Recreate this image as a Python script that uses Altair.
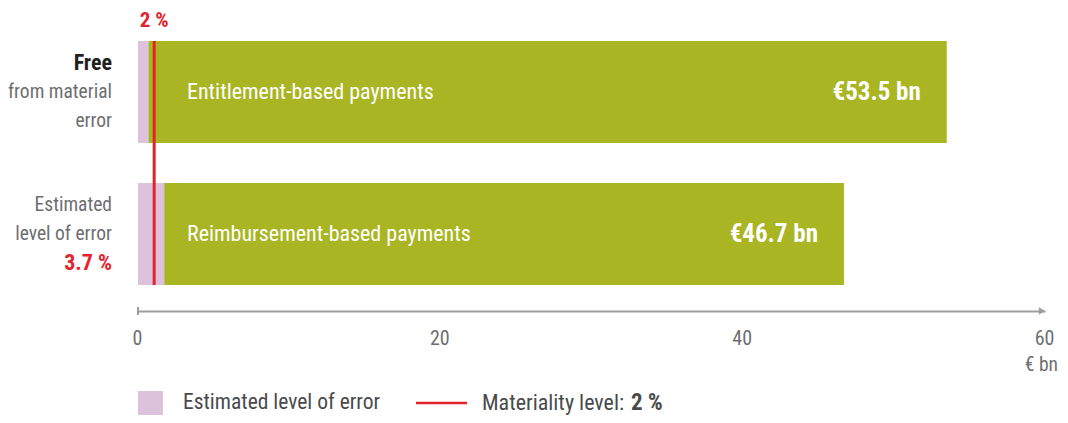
import altair as alt
import pandas as pd

FONT = "Roboto Condensed, Liberation Sans Narrow, DejaVu Sans Condensed, sans-serif"

# ---- data ----
categories = ["Entitlement-based payments", "Reimbursement-based payments"]
totals = [53.5, 46.7]            # € bn
errors = [0.68, 1.73]            # estimated level of error, € bn
value_labels = ["€53.5 bn", "€46.7 bn"]
materiality_x = [1.07]           # 2 % materiality level, € bn
tick_values = [0, 20, 40, 60]
line1 = ["Free", "Estimated"]
line2 = ["from material", "level of error"]
line3 = ["error", "3.7 %"]

GREEN = "#a9b522"
PINK = "#dcc3db"
RED = "#e4222b"
GRAY = "#6d6e71"
DARK = "#231f20"
LEG = "#4a4a4c"
AX = "#9d9d9d"

df = pd.DataFrame({
    "cat": categories, "total": totals, "err": errors, "label": value_labels,
    "l1": line1, "l2": line2, "l3": line3,
})
mat = pd.DataFrame({"x": materiality_x, "t": ["2 %"]})

xscale = alt.Scale(domain=[0, 60], nice=False, zero=True)
yscale = alt.Scale(domain=categories, paddingInner=0.2817, paddingOuter=0.0915, align=0)
X = lambda f: alt.X(f, type="quantitative", scale=xscale,
                    axis=alt.Axis(values=tick_values, ticks=False, grid=False,
                                  domainColor=AX, domainWidth=2,
                                  labelColor=GRAY, labelFont=FONT, labelFontSize=20,
                                  labelPadding=17, labelFlush=False, title=None,
                                  labelOffset=-1))
Y = alt.Y("cat:N", scale=yscale, axis=None, sort=categories)

base = alt.Chart(df)

green = base.mark_bar(color=GREEN).encode(x=X("err"), x2="total:Q", y=Y)
pink = base.mark_bar(color=PINK).encode(x=X("err"), y=Y)

names = base.mark_text(color="white", font=FONT, fontSize=22, align="left",
                       baseline="middle").encode(x=alt.value(49), y=Y, text="cat:N")
vals = base.mark_text(color="white", font=FONT, fontSize=25, fontWeight="bold",
                      align="right", baseline="middle", dx=-26).encode(
    x=X("total"), y=Y, text="label:N")

r1 = base.transform_filter(alt.datum.cat == categories[0])
r2 = base.transform_filter(alt.datum.cat == categories[1])
reg = dict(font=FONT, fontSize=19.5, align="right", baseline="middle")
bold = dict(font=FONT, fontSize=22, fontWeight="bold", align="right", baseline="middle")
left = [
    r1.mark_text(color=DARK, dy=-29, **bold).encode(x=alt.value(-26), y=Y, text="l1:N"),
    r1.mark_text(color=GRAY, dy=0, **reg).encode(x=alt.value(-26), y=Y, text="l2:N"),
    r1.mark_text(color=GRAY, dy=29, **reg).encode(x=alt.value(-26), y=Y, text="l3:N"),
    r2.mark_text(color=GRAY, dy=-29, **reg).encode(x=alt.value(-26), y=Y, text="l1:N"),
    r2.mark_text(color=GRAY, dy=0, **reg).encode(x=alt.value(-26), y=Y, text="l2:N"),
    r2.mark_text(color=RED, dy=29, **bold).encode(x=alt.value(-26), y=Y, text="l3:N"),
]

mbase = alt.Chart(mat)
rule = mbase.mark_rule(color=RED, strokeWidth=3).encode(
    x=X("x"), y=alt.value(0), y2=alt.value(244))
mlabel = mbase.mark_text(color=RED, font=FONT, fontSize=21, fontWeight="bold",
                         align="center", baseline="middle").encode(
    x=X("x"), y=alt.value(-20), text="t:N")

# axis decorations
ends = pd.DataFrame({"x": [tick_values[0]], "x_end": [tick_values[-1]], "u": ["€ bn"]})
ebase = alt.Chart(ends)
tick0 = ebase.mark_rule(color=AX, strokeWidth=2).encode(
    x=X("x"), y=alt.value(266), y2=alt.value(274))
arrow = ebase.mark_point(shape="triangle-right", filled=True, color=AX,
                         size=55, opacity=1, xOffset=-3).encode(
    x=alt.X("x_end:Q", scale=xscale), y=alt.value(270))
unit = ebase.mark_text(color=GRAY, font=FONT, fontSize=19.5, align="right",
                       baseline="middle", dx=13).encode(
    x=alt.X("x_end:Q", scale=xscale), y=alt.value(324), text="u:N")

# legend
leg = pd.DataFrame({"a": ["Estimated level of error"], "b": ["Materiality level:"], "c": ["2 %"]})
lbase = alt.Chart(leg)
leg_sq = lbase.mark_rect(color=PINK).encode(
    x=alt.value(0), x2=alt.value(25), y=alt.value(350), y2=alt.value(374))
leg_t1 = lbase.mark_text(color=LEG, font=FONT, fontSize=21.5, align="left", baseline="middle").encode(
    x=alt.value(45), y=alt.value(362), text="a:N")
leg_line = lbase.mark_rule(color=RED, strokeWidth=2.5).encode(
    x=alt.value(278), x2=alt.value(329), y=alt.value(362))
leg_t2 = lbase.mark_text(color=LEG, font=FONT, fontSize=22, align="left", baseline="middle").encode(
    x=alt.value(344), y=alt.value(362), text="b:N")
leg_t3 = lbase.mark_text(color=LEG, font=FONT, fontSize=23, fontWeight="bold", align="left",
                         baseline="middle").encode(
    x=alt.value(493), y=alt.value(362), text="c:N")

chart = alt.layer(
    green, pink, names, vals, *left, rule, mlabel, tick0, arrow, unit,
    leg_sq, leg_t1, leg_line, leg_t2, leg_t3,
).properties(
    width=907, height=270,
    autosize=alt.AutoSizeParams(type="none"),
    padding={"left": 130, "top": 33, "right": 15, "bottom": 104},
).configure_view(stroke=None)

chart.save("out.html", embed_options={"renderer": "svg", "actions": False})
